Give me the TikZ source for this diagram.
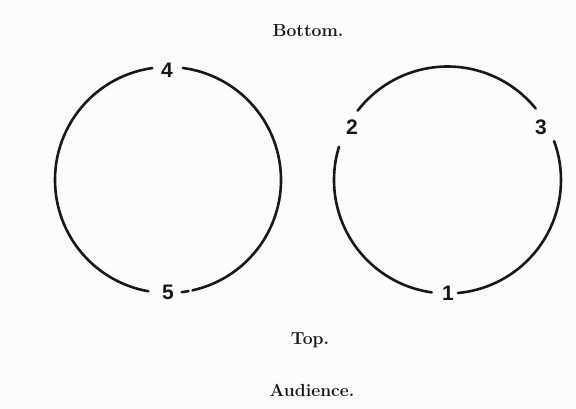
\documentclass[tikz,border=0pt]{standalone}
\usepackage{fontspec}
\newfontfamily\digitfont{Liberation Sans}
\definecolor{ink}{RGB}{24,24,24}
\definecolor{paper}{RGB}{250,251,252}
\tikzset{
  ring/.style={draw=ink, line width=2.6pt, line cap=round},
  caption/.style={text=ink, font=\fontsize{17.5}{20}\selectfont\bfseries, inner sep=0pt},
  numlabel/.style={text=ink, font=\digitfont\bfseries\fontsize{21}{24}\selectfont, inner sep=0pt}
}
\begin{document}
\begin{tikzpicture}[x=1pt,y=1pt]
  \fill[paper] (0,0) rectangle (576,409);
  \useasboundingbox (0,0) rectangle (576,409);
  \coordinate (cl) at (168,229);
  \coordinate (cr) at (447.5,229);
  % captions
  \node[caption] (bottom) at (308,378) {Bottom.};
  \node[caption] (top) at (310,69) {Top.};
  \node[caption] (aud) at (312,19) {Audience.};
  % numbers
  \node[numlabel] (n4) at (167,339) {4};
  \node[numlabel] (n5) at (168,117) {5};
  \node[numlabel] (n2) at (352,282) {2};
  \node[numlabel] (n3) at (541,282) {3};
  \node[numlabel] (n1) at (448,116) {1};
  % left circle
  \draw[ring] ([shift={(98:113)}]cl) arc[start angle=98, end angle=260, radius=113];
  \draw[ring] ([shift={(277:113)}]cl) arc[start angle=277, end angle=280.5, radius=113];
  \draw[ring] ([shift={(282.5:113)}]cl) arc[start angle=282.5, end angle=442.4, radius=113];
  % right circle
  \draw[ring] ([shift={(39:113.5)}]cr) arc[start angle=39, end angle=142.3, radius=113.5];
  \draw[ring] ([shift={(163:113.5)}]cr) arc[start angle=163, end angle=262, radius=113.5];
  \draw[ring] ([shift={(275.3:113.5)}]cr) arc[start angle=275.3, end angle=380, radius=113.5];
\end{tikzpicture}
\end{document}
